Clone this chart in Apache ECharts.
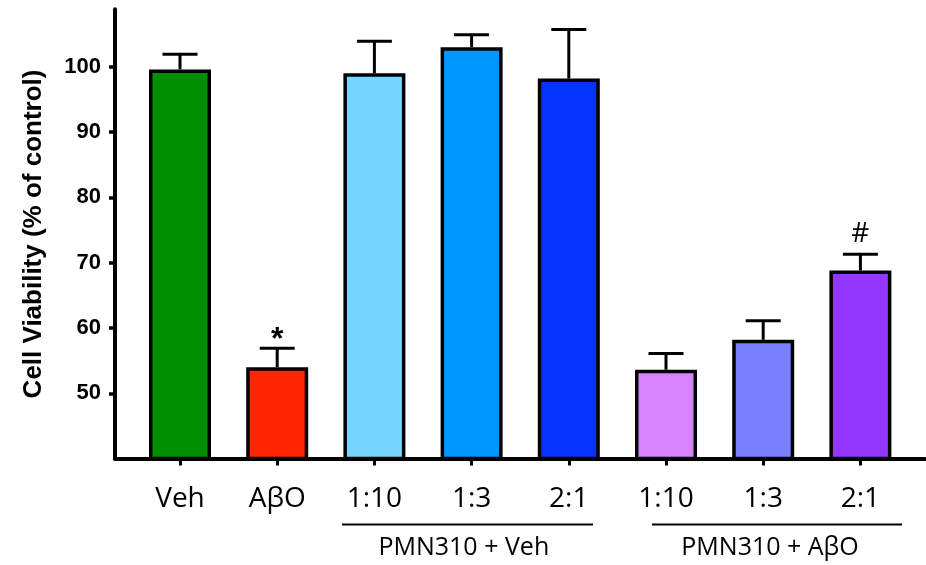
<!DOCTYPE html>
<html>
<head>
<meta charset="utf-8">
<script src="https://cdn.jsdelivr.net/npm/echarts@6/dist/echarts.min.js"></script>
<style>
html,body{margin:0;padding:0;background:#fff;}
#chart{width:926px;height:565px;}
</style>
</head>
<body>
<div id="chart"></div>
<script>
const categories = ['Veh', 'AβO', '1:10', '1:3', '2:1', '1:10', '1:3', '2:1'];
const means = [99.6, 54.0, 99.0, 103.0, 98.2, 53.6, 58.2, 68.8];
const errUpper = [101.9, 56.9, 103.9, 104.9, 105.7, 56.1, 61.1, 71.3];
const marks = ['', '*', '', '', '', '', '', '#'];
const barColors = ['#008F00', '#FF2600', '#76D6FF', '#0096FF', '#0433FF', '#D783FF', '#7A81FF', '#9437FF'];
const yTicks = [50, 60, 70, 80, 90, 100];
const groupNames = ['PMN310 + Veh', 'PMN310 + AβO'];
const groupSpans = [[2, 4], [5, 7]];

const chart = echarts.init(document.getElementById('chart'), null, {renderer: 'canvas'});
const idx = categories.map((c, i) => i);

// layout: 97.2px per category, first centre at x=180, axis from x=115 to 925
const gridLeft = 115, gridRight = 1, step = 97.2, firstCentre = 180;
const xMin = -(firstCentre - gridLeft) / step;
const xMax = xMin + (926 - gridLeft - gridRight) / step;

const option = {
  animation: false,
  backgroundColor: '#fff',
  grid: {left: gridLeft, right: gridRight, top: 9.3, bottom: 106.4, containLabel: false},
  xAxis: {
    type: 'value', min: xMin, max: xMax,
    splitLine: {show: false},
    axisLine: {show: true, onZero: false, lineStyle: {color: '#000', width: 4}},
    axisTick: {show: true, length: 7, inside: false, customValues: idx, lineStyle: {color: '#000', width: 3}},
    axisLabel: {
      customValues: idx, margin: 26, color: '#000',
      fontFamily: 'Open Sans', fontSize: 28,
      formatter: v => categories[Math.round(v)] || ''
    }
  },
  yAxis: {
    type: 'value', min: 40, max: 108.8,
    splitLine: {show: false},
    axisLine: {show: true, onZero: false, lineStyle: {color: '#000', width: 4}},
    axisTick: {show: true, length: 6, customValues: yTicks, lineStyle: {color: '#000', width: 3.5}},
    axisLabel: {customValues: yTicks, margin: 14, color: '#000', fontFamily: 'Liberation Sans', fontWeight: 'bold', fontSize: 22},
    name: 'Cell Viability (% of control)',
    nameLocation: 'middle', nameRotate: 90, nameGap: 68,
    nameTextStyle: {color: '#000', fontFamily: 'Liberation Sans', fontWeight: 'bold', fontSize: 26}
  },
  series: [
    {
      type: 'bar', barWidth: 62,
      data: means.map((m, i) => ({value: [i, m], itemStyle: {color: barColors[i], borderColor: '#000', borderWidth: 3.5}})),
      z: 2
    },
    {
      type: 'custom', z: 3,
      data: means.map((m, i) => [i, m, errUpper[i]]),
      renderItem: function (params, api) {
        const i = api.value(0);
        const p0 = api.coord([i, api.value(1)]);
        const p1 = api.coord([i, api.value(2)]);
        const children = [
          {type: 'line', shape: {x1: p0[0], y1: p0[1], x2: p1[0], y2: p1[1]}, style: {stroke: '#000', lineWidth: 3}},
          {type: 'line', shape: {x1: p1[0] - 17.5, y1: p1[1], x2: p1[0] + 17.5, y2: p1[1]}, style: {stroke: '#000', lineWidth: 3}}
        ];
        const mk = marks[params.dataIndex];
        if (mk) {
          const star = mk === '*';
          children.push({
            type: 'text',
            style: {
              text: mk, x: p1[0], y: p1[1] - (star ? 8 : 20),
              align: 'center', verticalAlign: 'middle',
              font: star ? 'bold 32px "Liberation Sans"' : '28px "Open Sans"',
              fill: '#000'
            }
          });
        }
        return {type: 'group', children: children};
      }
    }
  ]
};
chart.setOption(option);

// group annotations beneath the category labels
const lineOffsets = [[-0.333, 0.249], [-0.144, 0.428]];
const labelCentreOffsets = [-0.08, 0.07];
const graphics = [];
groupSpans.forEach((sp, g) => {
  const a = chart.convertToPixel({gridIndex: 0}, [sp[0] + lineOffsets[g][0], 50])[0];
  const b = chart.convertToPixel({gridIndex: 0}, [sp[1] + lineOffsets[g][1], 50])[0];
  const mid = chart.convertToPixel({gridIndex: 0}, [(sp[0] + sp[1]) / 2 + labelCentreOffsets[g], 50])[0];
  graphics.push({type: 'line', shape: {x1: a, y1: 524.5, x2: b, y2: 524.5}, style: {stroke: '#000', lineWidth: 2.2}});
  graphics.push({type: 'text', style: {text: groupNames[g], x: mid, y: 548, align: 'center', verticalAlign: 'middle', font: '25px "Open Sans"', fill: '#000'}});
});
chart.setOption({graphic: graphics});
</script>
</body>
</html>
